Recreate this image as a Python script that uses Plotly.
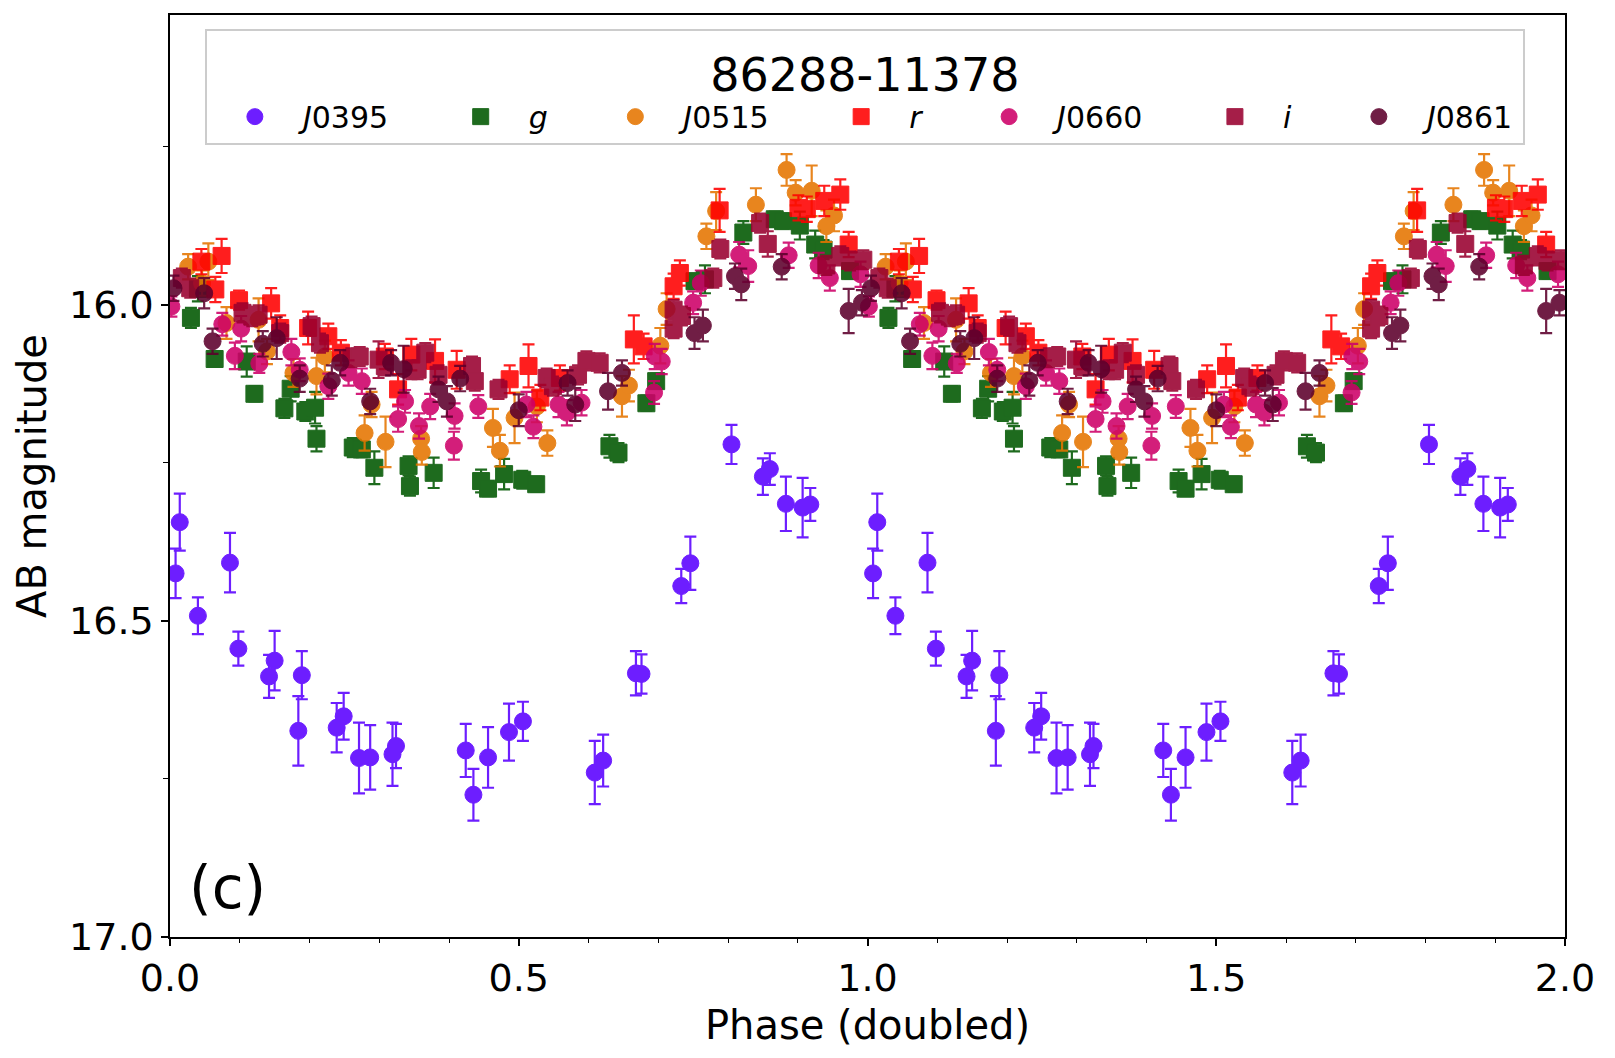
import plotly.graph_objects as go

# ---- data (phase 0-1; repeated at phase+1 for the doubled-phase plot) ----
phase_J0395 = [0.008, 0.014, 0.040, 0.086, 0.098, 0.142, 0.150, 0.184, 0.189, 0.239, 0.249,
               0.271, 0.287, 0.319, 0.324, 0.424, 0.435, 0.456, 0.486, 0.506, 0.609, 0.621,
               0.668, 0.676, 0.733, 0.746, 0.805, 0.850, 0.860, 0.883, 0.907, 0.918]
mag_J0395 = [16.425, 16.344, 16.492, 16.408, 16.544, 16.588, 16.563, 16.674, 16.586, 16.669, 16.651,
             16.717, 16.716, 16.711, 16.698, 16.705, 16.775, 16.716, 16.676, 16.659, 16.740, 16.721,
             16.583, 16.584, 16.445, 16.409, 16.221, 16.272, 16.260, 16.315, 16.321, 16.316]
err_J0395 = [0.039, 0.045, 0.029, 0.047, 0.027, 0.034, 0.047, 0.055, 0.038, 0.039, 0.037,
             0.056, 0.051, 0.050, 0.035, 0.042, 0.041, 0.048, 0.045, 0.031, 0.050, 0.041,
             0.035, 0.031, 0.027, 0.042, 0.031, 0.029, 0.025, 0.043, 0.047, 0.026]

phase_g = [0.030, 0.040, 0.064, 0.110, 0.121, 0.164, 0.173, 0.194, 0.208, 0.210, 0.262, 0.275,
           0.293, 0.342, 0.344, 0.378, 0.446, 0.456, 0.479, 0.505, 0.525, 0.630, 0.643, 0.683,
           0.697, 0.752, 0.767, 0.822, 0.867, 0.879, 0.903, 0.925, 0.937, 0.975]
mag_g = [16.021, 15.975, 16.086, 16.090, 16.141, 16.164, 16.133, 16.169, 16.163, 16.212, 16.226, 16.229,
         16.258, 16.255, 16.287, 16.266, 16.279, 16.291, 16.268, 16.277, 16.284, 16.224, 16.234, 16.156,
         16.121, 15.963, 15.960, 15.886, 15.865, 15.868, 15.875, 15.905, 15.913, 15.947]
err_g = [0.016, 0.020, 0.012, 0.024, 0.012, 0.015, 0.020, 0.015, 0.025, 0.020, 0.015, 0.012,
         0.026, 0.015, 0.015, 0.024, 0.018, 0.012, 0.024, 0.014, 0.012, 0.018, 0.015, 0.012,
         0.012, 0.012, 0.022, 0.018, 0.012, 0.012, 0.022, 0.022, 0.015, 0.012]

phase_J0515 = [0.026, 0.046, 0.055, 0.081, 0.127, 0.139, 0.177, 0.210, 0.222, 0.279, 0.289, 0.309,
               0.360, 0.361, 0.463, 0.473, 0.494, 0.526, 0.541, 0.648, 0.658, 0.703, 0.712, 0.769,
               0.783, 0.840, 0.884, 0.897, 0.920, 0.941, 0.952]
mag_J0515 = [15.940, 15.966, 15.932, 16.029, 16.024, 16.074, 16.108, 16.113, 16.082, 16.203, 16.158, 16.217,
             16.212, 16.233, 16.195, 16.231, 16.179, 16.161, 16.219, 16.145, 16.128, 16.065, 16.007, 15.892,
             15.852, 15.842, 15.787, 15.823, 15.820, 15.876, 15.859]
err_J0515 = [0.020, 0.020, 0.029, 0.025, 0.034, 0.020, 0.022, 0.029, 0.025, 0.028, 0.020, 0.040,
             0.020, 0.020, 0.030, 0.025, 0.040, 0.025, 0.020, 0.032, 0.025, 0.028, 0.025, 0.020,
             0.030, 0.026, 0.025, 0.020, 0.040, 0.025, 0.025]

phase_r = [0.045, 0.065, 0.074, 0.099, 0.145, 0.158, 0.198, 0.227, 0.245, 0.308, 0.327, 0.346,
           0.380, 0.411, 0.487, 0.514, 0.531, 0.559, 0.665, 0.679, 0.722, 0.731, 0.788, 0.901,
           0.913, 0.938, 0.961, 0.973]
mag_r = [15.932, 15.976, 15.923, 15.993, 15.998, 16.037, 16.037, 16.050, 16.076, 16.082, 16.134, 16.079,
         16.089, 16.103, 16.118, 16.097, 16.147, 16.116, 16.055, 16.066, 15.971, 15.950, 15.851, 15.847,
         15.849, 15.836, 15.826, 15.905]
err_r = [0.020, 0.020, 0.027, 0.015, 0.024, 0.020, 0.026, 0.020, 0.020, 0.020, 0.024, 0.025,
         0.034, 0.030, 0.022, 0.034, 0.020, 0.020, 0.038, 0.020, 0.020, 0.020, 0.034, 0.020,
         0.020, 0.024, 0.024, 0.020]

phase_J0660 = [0.002, 0.075, 0.093, 0.102, 0.128, 0.174, 0.186, 0.227, 0.256, 0.275, 0.327, 0.337,
               0.357, 0.373, 0.407, 0.408, 0.442, 0.511, 0.521, 0.557, 0.569, 0.590, 0.694, 0.695,
               0.705, 0.750, 0.761, 0.816, 0.829, 0.887, 0.930, 0.946, 0.990]
mag_J0660 = [16.003, 16.031, 16.081, 16.038, 16.093, 16.075, 16.103, 16.129, 16.108, 16.121, 16.181, 16.153,
             16.192, 16.161, 16.223, 16.176, 16.161, 16.158, 16.193, 16.158, 16.171, 16.155, 16.139, 16.082,
             16.090, 15.997, 15.966, 15.921, 15.939, 15.922, 15.938, 15.958, 15.952]
err_J0660 = [0.016, 0.018, 0.021, 0.020, 0.015, 0.021, 0.018, 0.020, 0.020, 0.020, 0.020, 0.018,
             0.020, 0.020, 0.022, 0.020, 0.018, 0.020, 0.018, 0.020, 0.020, 0.020, 0.018, 0.020,
             0.020, 0.018, 0.020, 0.020, 0.025, 0.020, 0.020, 0.020, 0.020]

phase_i = [0.017, 0.029, 0.104, 0.118, 0.127, 0.158, 0.203, 0.215, 0.260, 0.272, 0.299, 0.308,
           0.346, 0.355, 0.366, 0.385, 0.433, 0.437, 0.471, 0.540, 0.549, 0.585, 0.597, 0.616,
           0.722, 0.722, 0.734, 0.779, 0.789, 0.846, 0.857, 0.941, 0.961, 0.975, 0.994]
mag_i = [15.958, 15.974, 16.013, 16.019, 16.016, 16.045, 16.034, 16.061, 16.084, 16.082, 16.087, 16.097,
         16.103, 16.103, 16.076, 16.111, 16.097, 16.121, 16.134, 16.116, 16.129, 16.111, 16.089, 16.092,
         16.008, 16.038, 16.018, 15.958, 15.912, 15.871, 15.904, 15.938, 15.923, 15.931, 15.929]
err_i = [0.015, 0.015, 0.015, 0.015, 0.015, 0.015, 0.015, 0.015, 0.015, 0.015, 0.029, 0.015,
         0.015, 0.015, 0.015, 0.015, 0.015, 0.015, 0.015, 0.015, 0.015, 0.015, 0.015, 0.015,
         0.015, 0.015, 0.015, 0.015, 0.015, 0.015, 0.020, 0.015, 0.015, 0.015, 0.015]

phase_J0861 = [0.005, 0.049, 0.061, 0.133, 0.153, 0.186, 0.232, 0.244, 0.287, 0.317, 0.335, 0.385,
               0.397, 0.416, 0.500, 0.570, 0.581, 0.628, 0.648, 0.752, 0.764, 0.810, 0.819, 0.877,
               0.973, 0.992]
mag_J0861 = [15.974, 15.982, 16.058, 16.062, 16.053, 16.117, 16.120, 16.092, 16.153, 16.092, 16.102, 16.134,
             16.153, 16.117, 16.167, 16.124, 16.158, 16.137, 16.108, 16.045, 16.033, 15.955, 15.968, 15.940,
             16.010, 15.997]
err_J0861 = [0.020, 0.024, 0.020, 0.020, 0.033, 0.021, 0.024, 0.020, 0.020, 0.020, 0.037, 0.020,
             0.024, 0.020, 0.025, 0.020, 0.026, 0.029, 0.020, 0.025, 0.025, 0.020, 0.025, 0.020,
             0.035, 0.020]

series_names = ["<i>J</i>0395", "<i>g</i>", "<i>J</i>0515", "<i>r</i>", "<i>J</i>0660", "<i>i</i>", "<i>J</i>0861"]
series_data = [(phase_J0395, mag_J0395, err_J0395), (phase_g, mag_g, err_g),
               (phase_J0515, mag_J0515, err_J0515), (phase_r, mag_r, err_r),
               (phase_J0660, mag_J0660, err_J0660), (phase_i, mag_i, err_i),
               (phase_J0861, mag_J0861, err_J0861)]
series_colors = ["#5a00ff", "#005700", "#e57500", "#ff0000", "#ce0068", "#99002f", "#5d002c"]
series_symbols = ["circle", "square", "circle", "square", "circle", "square", "circle"]

title_text = "86288-11378"
x_label = "Phase (doubled)"
y_label = "AB magnitude"
panel_label = "(c)"

PAD = "\u00a0\u00a0\u00a0\u2009"

fig = go.Figure()
n_series = len(series_names)
for k, (name, (ph, mg, er), col, sym) in enumerate(zip(series_names, series_data, series_colors, series_symbols)):
    x = list(ph) + [p + 1 for p in ph]
    y = list(mg) + list(mg)
    e = list(er) + list(er)
    label = name + (PAD if k < n_series - 1 else "")
    fig.add_trace(go.Scatter(
        x=x, y=y, mode="markers", name=label,
        marker=dict(color=col, symbol=sym, size=17, line=dict(color=col, width=1)),
        error_y=dict(type="data", array=e, visible=True, color=col, thickness=2.2, width=6),
        opacity=0.88,
    ))

axis_common = dict(
    showline=True, linecolor="black", linewidth=1.5, mirror=True,
    ticks="outside", tickcolor="black", tickwidth=1.5, ticklen=7,
    showgrid=False, zeroline=False,
    tickfont=dict(size=38, color="black"),
)

fig.update_layout(
    width=1615, height=1058,
    margin=dict(l=170, r=50, t=15, b=121),
    paper_bgcolor="white", plot_bgcolor="white",
    font=dict(family="DejaVu Sans", color="black"),
    showlegend=True,
    legend=dict(
        orientation="h", x=0.025, y=0.985, xanchor="left", yanchor="top",
        title=dict(text=title_text, side="top center", font=dict(size=46)),
        font=dict(size=30), bgcolor="rgba(255,255,255,0.85)",
        bordercolor="#cccccc", borderwidth=2, itemwidth=86,
    ),
    xaxis=dict(
        range=[0, 2], tick0=0, dtick=0.5, tickformat=".1f",
        minor=dict(dtick=0.1, ticklen=4, ticks="outside", tickcolor="black", tickwidth=1),
        title=dict(text=x_label, font=dict(size=40), standoff=12),
        **axis_common,
    ),
    yaxis=dict(
        range=[17.0, 15.542], tick0=16, dtick=0.5, tickformat=".1f",
        minor=dict(dtick=0.25, ticklen=5, ticks="outside", tickcolor="black", tickwidth=1),
        title=dict(text=y_label, font=dict(size=40), standoff=10),
        **axis_common,
    ),
    annotations=[dict(
        text=panel_label, xref="paper", yref="paper", x=0.012, y=0.053,
        xanchor="left", yanchor="middle", showarrow=False, font=dict(size=58, color="black"),
    )],
)

fig.write_html("out.html")
